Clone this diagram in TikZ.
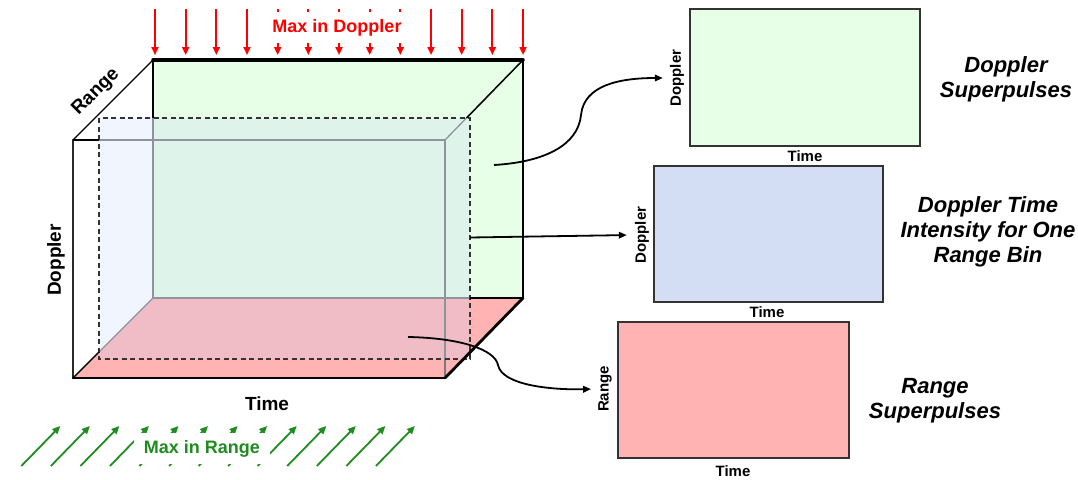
\documentclass[tikz,border=0pt]{standalone}
\usepackage{fontspec}
\setmainfont{Liberation Sans}
\usetikzlibrary{arrows.meta}

\definecolor{facegreen}{HTML}{E6FFE6}
\definecolor{floorpink}{HTML}{FFB3B3}
\definecolor{sliceblue}{HTML}{CBDAFA}
\definecolor{panelblue}{HTML}{D3DEF5}
\definecolor{maxred}{HTML}{FF0000}
\definecolor{maxgreen}{HTML}{1E8C1E}
\definecolor{frame}{HTML}{333333}
\definecolor{hidden}{HTML}{7A7A7A}

\newcommand\axisfont{\fontsize{19}{22}\selectfont\bfseries}
\newcommand\smallaxis{\fontsize{15}{18}\selectfont\bfseries}
\newcommand\titlefont{\fontsize{22}{25}\selectfont\bfseries\itshape}
\newcommand\maxfont{\fontsize{18}{21}\selectfont\bfseries}

\begin{document}
\begin{tikzpicture}[x=1pt,y=-1pt,
  edge/.style={line width=1.3pt,hidden},
  solidedge/.style={line width=1.4pt,black},
  boldedge/.style={line width=#1,black,line cap=round},
  panel/.style={draw=frame,line width=1.4pt,inner sep=0pt},
  axislabel/.style={font=\smallaxis,inner sep=3pt},
  title/.style={font=\titlefont,align=center,inner sep=0pt},
  conn/.style={line width=1.8pt,black,-{Triangle[length=8pt,width=6.5pt]}},
  redarrow/.style={line width=1.8pt,maxred,-{Triangle[length=8pt,width=7pt]}},
  greenarrow/.style={line width=1.8pt,maxgreen,-{Triangle[length=8pt,width=7pt]}},
  maxbox/.style={fill=white,font=\maxfont,inner xsep=9.5pt,inner ysep=7.5pt}]

\useasboundingbox (0,0) rectangle (1078,479);

% ---------- data cube corners ----------
\coordinate (ftl) at (73,140);  \coordinate (ftr) at (445,140);
\coordinate (fbl) at (73,378);  \coordinate (fbr) at (445,378);
\coordinate (btl) at (153,60);  \coordinate (btr) at (523,60);
\coordinate (bbl) at (153,298); \coordinate (bbr) at (523,298);

% back (Doppler-time) face and bottom (range-time) face
\fill[facegreen] (btl) -- (btr) -- (bbr) -- (bbl) -- cycle;
\fill[floorpink] (fbl) -- (fbr) -- (bbr) -- (bbl) -- cycle;

% cube edges seen through the slice
\draw[edge] (ftl) rectangle (fbr);
\draw[edge] (btl) -- (bbl) -- (bbr);
\draw[edge] (ftr) -- (btr);
\draw[edge] (fbl) -- (bbl);

% single range-bin slice
\fill[sliceblue,fill opacity=0.27] (99,118) rectangle (470,359);
\draw[frame,line width=1.4pt,dash pattern=on 5pt off 3.5pt] (99,118) rectangle (470,359);

% cube edges outside the slice
\draw[solidedge] (ftl) -- (99,140);
\draw[solidedge] (153,60) -- (153,118);
\draw[solidedge] (466.5,118) -- (btr);
\draw[solidedge] (470,298) -- (bbr);
\draw[solidedge] (fbl) -- (99,352);

% emphasised outer edges
\draw[boldedge=3.5pt] (btl) -- (btr);
\draw[boldedge=1.6pt] (btr) -- (bbr);
\draw[boldedge=2.8pt] (fbr) -- (bbr);
\draw[boldedge=2.2pt] (fbl) -- (fbr);
\draw[boldedge=1.4pt] (fbl) -- (ftl) -- (btl);

% cube axis labels
\node[font=\axisfont,rotate=45] (rangelab) at (96,92) {Range};
\node[font=\axisfont,rotate=90] (dopplab) at (56,260) {Doppler};
\node[font=\axisfont] (timelab) at (267,404) {Time};

% max over Doppler
\foreach \i in {0,...,12}
  \draw[redarrow] ({155+30.67*\i},9) -- ({155+30.67*\i},55);
\node[maxbox,text=maxred] (maxdop) at (337,27.5) {Max in Doppler};

% max over range
\foreach \i in {0,...,12}
  \draw[greenarrow] ({21.3+29.55*\i},466) -- ({60.3+29.55*\i},426);
\node[maxbox,text=maxgreen,inner ysep=7pt] (maxrng) at (202,448.5) {Max in Range};

% ---------- resulting images ----------
\node[panel,fill=facegreen,minimum width=230pt,minimum height=137pt] (pdop) at (805,77.5) {};
\node[axislabel,rotate=90] (pdopy) at (677,78) {Doppler};
\node[axislabel] (pdopx) at (805,156) {Time};

\node[panel,fill=panelblue,minimum width=229pt,minimum height=136pt] (pdti) at (768.5,234) {};
\node[axislabel,rotate=90] (pdtiy) at (642,235) {Doppler};
\node[axislabel] (pdtix) at (767,312.5) {Time};

\node[panel,fill=floorpink,minimum width=231pt,minimum height=136pt] (prng) at (733.5,390) {};
\node[axislabel,rotate=90] (prngy) at (605,389) {Range};
\node[axislabel] (prngx) at (733,471.5) {Time};

\node[title] (tdop) at (1006,79) {Doppler\\Superpulses};
\node[title] (tdti) at (988,232) {Doppler Time\\Intensity for One\\Range Bin};
\node[title] (trng) at (935,400.5) {Range\\Superpulses};

% ---------- connectors ----------
\coordinate (srcdop) at (494,165);
\coordinate (srcdti) at (470,237.5);
\coordinate (srcrng) at (408,337);

\draw[conn,shorten >=4pt] (srcdop) .. controls (545,162) and (578,145) .. (581,115)
  .. controls (584,85) and (620,78) .. (pdopy.north);
\draw[conn,shorten >=5pt] (srcdti) -- (pdtiy.north);
\draw[conn,shorten >=4pt] (srcrng) .. controls (462,338) and (495,350) .. (498,365)
  .. controls (502,385) and (550,390) .. (prngy.north);

\end{tikzpicture}
\end{document}
